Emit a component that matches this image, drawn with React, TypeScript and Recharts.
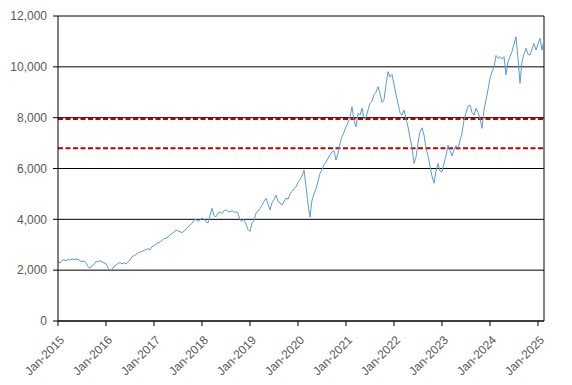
import { LineChart, Line, XAxis, YAxis, CartesianGrid, ReferenceLine } from "recharts";

// semi-monthly closes, 24 per year
const v2015 = [2330, 2280, 2380, 2420, 2370, 2430, 2400, 2450, 2410, 2440, 2420, 2380, 2330, 2360, 2290, 2140, 2070, 2180, 2230, 2350, 2320, 2380, 2330, 2290];
const v2016 = [2250, 2090, 2000, 2010, 2150, 2200, 2270, 2300, 2250, 2290, 2240, 2330, 2400, 2530, 2570, 2620, 2680, 2710, 2740, 2780, 2810, 2850, 2800, 2930];
const v2017 = [2960, 3020, 3080, 3110, 3170, 3240, 3260, 3300, 3390, 3440, 3500, 3580, 3540, 3510, 3480, 3530, 3620, 3700, 3760, 3850, 3960, 4000, 3910, 3990];
const v2018 = [4040, 4000, 3900, 3860, 4150, 4430, 4150, 4100, 4250, 4300, 4220, 4350, 4370, 4310, 4300, 4340, 4280, 4300, 4240, 3980, 3920, 4000, 3800, 3600];
const v2019 = [3520, 3860, 3950, 4250, 4320, 4430, 4560, 4700, 4830, 4600, 4370, 4650, 4780, 4950, 4700, 4650, 4560, 4700, 4830, 4790, 5000, 5090, 5200, 5280];
const v2020 = [5450, 5560, 5700, 5940, 5300, 4600, 4080, 4760, 5000, 5200, 5500, 5810, 5950, 6150, 6250, 6400, 6530, 6650, 6700, 6330, 6600, 6990, 7250, 7420];
const v2021 = [7640, 7800, 8040, 8430, 7900, 7640, 8170, 8100, 8370, 7950, 8000, 8300, 8560, 8650, 8900, 9000, 9220, 8950, 8600, 8700, 9300, 9810, 9600, 9700];
const v2022 = [9300, 8900, 8560, 8200, 8100, 8300, 7950, 7640, 7200, 6860, 6200, 6450, 7000, 7450, 7600, 7320, 6800, 6500, 6100, 5700, 5420, 5900, 6200, 5900];
const v2023 = [5870, 6200, 6500, 6920, 6700, 6500, 6750, 6900, 6800, 7100, 7400, 7900, 8200, 8450, 8500, 8200, 8100, 8370, 8200, 7970, 7580, 8300, 8700, 9100];
const v2024 = [9550, 9800, 10000, 10450, 10330, 10400, 10300, 10400, 9680, 10200, 10400, 10600, 10900, 11180, 10330, 9350, 10200, 10500, 10730, 10500, 10460, 10700, 10920, 10660];
const v2025 = [10900, 11120, 10660, 11100];

const years = [2015, 2016, 2017, 2018, 2019, 2020, 2021, 2022, 2023, 2024, 2025];
const yearly = [v2015, v2016, v2017, v2018, v2019, v2020, v2021, v2022, v2023, v2024, v2025];
const yTicks = [0, 2000, 4000, 6000, 8000, 10000, 12000];
const levels = [7950, 6800];

const data = yearly.flatMap((vals, k) =>
  vals.map((value, i) => ({ t: years[k] + i / 24, value }))
);

const X_END = 2025.125;
const font = "'Liberation Sans', Arial, sans-serif";

function DateTick({ x, y, payload }: any) {
  return (
    <text
      x={x}
      y={y}
      transform={`rotate(-45, ${x}, ${y})`}
      textAnchor="end"
      dx={-4}
      dy={14}
      fontSize={12}
      fontFamily={font}
      fill="#595959"
    >
      {`Jan-${payload.value}`}
    </text>
  );
}

export default function App() {
  return (
    <div style={{ position: "absolute", left: 0, top: 0, background: "#fff" }}>
      <LineChart
        width={572}
        height={385}
        data={data}
        margin={{ top: 16, right: 28, bottom: 0, left: 0 }}
      >
        <CartesianGrid vertical={false} stroke="#000" strokeWidth={1} />
        <XAxis
          dataKey="t"
          type="number"
          domain={[2015, X_END]}
          ticks={years}
          allowDataOverflow
          height={64}
          stroke="#000"
          tickSize={5}
          tick={<DateTick />}
          interval={0}
        />
        <YAxis
          domain={[0, 12000]}
          ticks={yTicks}
          width={58}
          stroke="#000"
          tickSize={5}
          tickMargin={6}
          tickFormatter={(v: number) => v.toLocaleString("en-US")}
          tick={{ fontSize: 12, fontFamily: font, fill: "#595959" }}
        />
        <ReferenceLine x={X_END} stroke="#000" />
        {levels.map((lv) => (
          <ReferenceLine key={lv} y={lv} stroke="#C00000" strokeWidth={2} strokeDasharray="5 2.5" />
        ))}
        <Line
          dataKey="value"
          stroke="#5B9BD5"
          strokeWidth={1}
          dot={false}
          isAnimationActive={false}
        />
      </LineChart>
    </div>
  );
}
